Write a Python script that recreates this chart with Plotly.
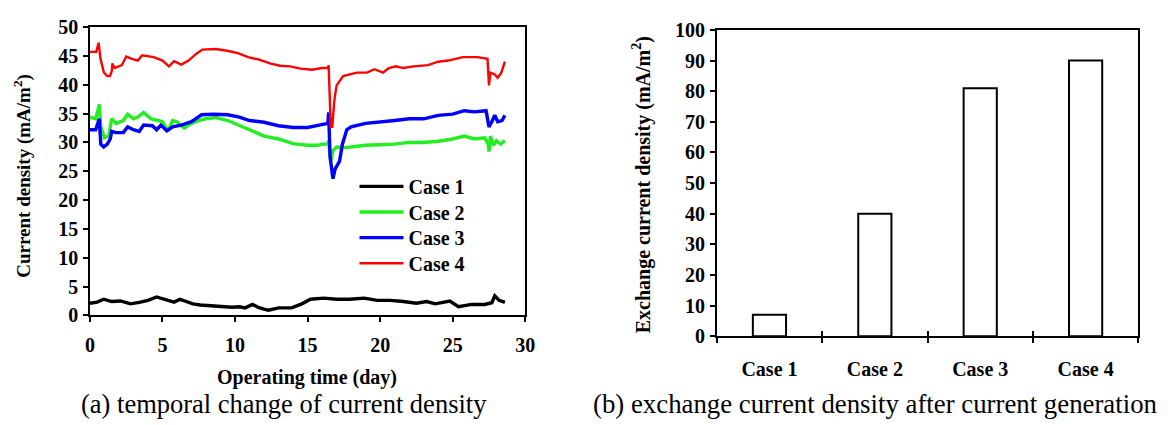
import plotly.graph_objects as go

# ---------------- data: (a) temporal change of current density ----------------
case1_t = [0, 0.5, 0.95, 1.5, 2.1, 2.8, 3.4, 4.0, 4.6, 5.3, 5.8, 6.2, 6.7, 7.1, 7.6, 8.0, 8.9, 9.8,
           10.3, 10.7, 11.2, 11.6, 12.0, 12.3, 13.0, 13.9, 14.6, 15.2, 16.1, 17.0, 17.9, 18.9,
           19.8, 20.7, 21.6, 22.5, 23.2, 23.8, 24.8, 25.4, 26.3, 27.2, 27.7, 27.9, 28.2, 28.6]
case1_v = [2.1, 2.3, 2.8, 2.4, 2.5, 2.0, 2.25, 2.6, 3.2, 2.6, 2.3, 2.8, 2.3, 2.0, 1.8, 1.7, 1.6, 1.4,
           1.5, 1.3, 1.9, 1.4, 1.1, 0.9, 1.3, 1.3, 2.0, 2.8, 3.0, 2.8, 2.8, 3.0,
           2.6, 2.6, 2.4, 2.1, 2.4, 2.0, 2.5, 1.5, 1.9, 1.9, 2.2, 3.4, 2.6, 2.25]

case2_t = [0, 0.4, 0.65, 0.75, 1.0, 1.3, 1.5, 1.8, 2.3, 2.6, 3.0, 3.3, 3.7, 4.2, 4.7, 5.0, 5.4, 5.7,
           6.0, 6.5, 7.0, 7.5, 8.0, 8.7, 9.5, 10.2, 11.0, 12.0, 13.0, 14.0, 15.0, 15.7, 16.0,
           16.4, 16.45, 16.6, 16.75, 17.0, 17.5, 18.0, 19.0, 20.0, 21.0, 22.0, 23.0, 24.0,
           25.0, 25.8, 26.5, 27.2, 27.45, 27.5, 27.6, 27.8, 28.0, 28.3, 28.6]
case2_v = [34.4, 34.1, 36.6, 32.7, 30.8, 31.1, 34.1, 33.3, 33.8, 34.9, 34.1, 34.4, 35.2, 34.1, 33.8,
           33.6, 32.0, 33.8, 33.6, 32.5, 33.3, 33.8, 34.1, 34.3, 33.8, 33.1, 32.2, 31.1, 30.6, 29.8,
           29.5, 29.5, 29.7, 29.7, 30.3, 26.7, 28.6, 29.2, 29.1, 29.2, 29.5, 29.6, 29.7, 30.0, 30.0,
           30.2, 30.6, 31.1, 30.6, 30.8, 29.7, 28.4, 31.1, 29.5, 30.3, 29.7, 30.3]

case3_t = [0, 0.4, 0.65, 0.75, 0.95, 1.2, 1.4, 1.5, 1.8, 2.3, 2.6, 3.0, 3.4, 3.7, 4.3, 4.6, 4.9, 5.3,
           5.7, 6.3, 7.0, 7.7, 8.5, 9.5, 10.3, 11.0, 12.0, 13.0, 14.0, 15.0, 15.8, 16.4, 16.45,
           16.55, 16.75, 16.9, 17.2, 17.4, 17.7, 18.0, 19.0, 20.0, 21.0, 22.0, 23.0, 24.0, 25.0,
           25.8, 26.5, 27.3, 27.5, 27.7, 27.9, 28.1, 28.4, 28.6]
case3_v = [32.2, 32.2, 34.1, 29.7, 29.2, 29.7, 30.6, 31.9, 31.7, 31.7, 32.7, 32.2, 31.9, 33.0, 32.9,
           32.2, 33.0, 32.0, 32.7, 33.0, 33.6, 34.8, 34.9, 34.8, 34.4, 33.8, 33.5, 32.9, 32.6, 32.6,
           33.0, 33.3, 35.2, 27.5, 23.7, 25.4, 26.7, 29.7, 32.2, 32.7, 33.3, 33.5, 33.8, 34.1, 34.1,
           34.7, 34.9, 35.5, 35.3, 35.5, 32.7, 33.6, 34.7, 33.6, 33.8, 34.7]

case4_t = [0, 0.44, 0.6, 0.73, 0.97, 1.2, 1.38, 1.5, 1.55, 1.7, 2.2, 2.5, 2.9, 3.3, 3.6, 4.4, 5.0, 5.45,
           5.8, 6.3, 6.8, 7.3, 7.75, 8.7, 9.45, 10.2, 10.9, 11.6, 12.4, 13.1, 13.8, 14.5, 15.3,
           16.0, 16.4, 16.45, 16.6, 16.7, 16.85, 17.0, 17.45, 17.9, 18.4, 19.1, 19.6, 20.2, 20.6,
           21.1, 21.6, 22.3, 23.3, 24.0, 24.7, 25.2, 25.7, 26.7, 27.4, 27.5, 27.6, 27.9, 28.1,
           28.35, 28.6]
case4_v = [45.7, 45.7, 47.3, 44.5, 42.1, 41.5, 41.5, 42.3, 43.7, 42.9, 43.4, 44.9, 44.5, 44.2, 45.1,
           44.8, 44.2, 43.2, 44.1, 43.5, 44.2, 45.3, 46.1, 46.2, 45.9, 45.5, 44.8, 44.4, 43.7, 43.3,
           43.2, 42.8, 42.6, 42.9, 42.9, 43.4, 32.7, 32.7, 37.4, 39.9, 41.5, 41.8, 42.1, 42.1, 42.7,
           42.1, 42.9, 43.2, 42.9, 43.2, 43.4, 44.0, 44.2, 44.5, 44.8, 44.8, 44.5, 39.9, 42.1, 41.8,
           41.2, 42.1, 44.0]

# ---------------- data: (b) exchange current density ----------------
cases = ["Case 1", "Case 2", "Case 3", "Case 4"]
exchange_cd = [7, 40, 81, 90]

FONT = "Liberation Serif"
W, H = 1171, 425


def px_x(p):
    return p / W


def px_y(p):
    return 1 - p / H


fig = go.Figure()
series = [
    ("Case 1", case1_t, case1_v, "#000000", "legend", 3.4),
    ("Case 2", case2_t, case2_v, "#22EE22", "legend2", 3.4),
    ("Case 3", case3_t, case3_v, "#0000FF", "legend3", 3.4),
    ("Case 4", case4_t, case4_v, "#FF0000", "legend4", 2.4),
]
for name, t, v, c, lg, w in series:
    fig.add_trace(go.Scatter(x=t, y=v, mode="lines", name="<b>" + name + "</b>",
                             line=dict(color=c, width=w), xaxis="x", yaxis="y", legend=lg))

fig.add_trace(go.Bar(x=cases, y=exchange_cd, xaxis="x3", yaxis="y3", showlegend=False,
                     marker=dict(color="white", line=dict(color="black", width=2)),
                     width=0.315))
# invisible companion trace for the overlay (inside-tick) category axis
fig.add_trace(go.Bar(x=cases, y=exchange_cd, xaxis="x4", yaxis="y3", showlegend=False,
                     marker=dict(color="rgba(0,0,0,0)", line=dict(width=0)), width=0.315,
                     hoverinfo="skip"))

tickfont = dict(family=FONT, size=20, color="black", weight="bold")
ax_common = dict(showgrid=False, zeroline=False, showline=True, linecolor="black",
                 linewidth=1.5, ticks="outside", ticklen=5, tickwidth=1.5, tickcolor="black",
                 tickfont=tickfont)
in_common = dict(showgrid=False, zeroline=False, showline=False, ticks="inside", ticklen=5,
                 tickwidth=1.5, tickcolor="black", showticklabels=False)

dom_ax = [px_x(86), px_x(527)]
dom_ay = [px_y(321), px_y(17)]
dom_bx = [px_x(721), px_x(1148)]
dom_by = [px_y(343), px_y(20)]

legend_common = dict(xanchor="left", yanchor="middle", bgcolor="rgba(0,0,0,0)",
                     font=dict(family=FONT, size=20, color="black"), itemwidth=44)
legend_rows = [185, 212, 239, 266]

fig.update_layout(
    width=W, height=H, margin=dict(l=0, r=0, t=0, b=0),
    paper_bgcolor="white", plot_bgcolor="white",
    font=dict(family=FONT, color="black"),
    xaxis=dict(domain=dom_ax, anchor="y", range=[0, 30], dtick=5, mirror=True,
               ticklabelstandoff=6, **ax_common),
    yaxis=dict(domain=dom_ay, anchor="x", range=[0, 50], dtick=5, mirror=True,
               ticklabelstandoff=1, **ax_common),
    xaxis2=dict(overlaying="x", anchor="y", matches="x", range=[0, 30], dtick=5, **in_common),
    yaxis2=dict(overlaying="y", anchor="x", matches="y", range=[0, 50], dtick=5, **in_common),
    xaxis3=dict(domain=dom_bx, anchor="y3", type="category", tickson="boundaries",
                range=[-0.5, 3.5], mirror=True, ticklabelstandoff=14, **ax_common),
    xaxis4=dict(overlaying="x3", anchor="y3", type="category", tickson="boundaries",
                range=[-0.5, 3.5], **in_common),
    yaxis3=dict(domain=dom_by, anchor="x3", range=[0, 100], dtick=10, mirror=True,
                ticklabelstandoff=1, **ax_common),
    yaxis4=dict(overlaying="y3", anchor="x3", range=[0, 100], dtick=10, **in_common),
    legend=dict(x=px_x(354), y=px_y(legend_rows[0]), **legend_common),
    legend2=dict(x=px_x(354), y=px_y(legend_rows[1]), **legend_common),
    legend3=dict(x=px_x(354), y=px_y(legend_rows[2]), **legend_common),
    legend4=dict(x=px_x(354), y=px_y(legend_rows[3]), **legend_common),
    showlegend=True,
)

ann = []
ann.append(dict(text="<b>Current density (mA/m<sup>2</sup>)</b>", x=px_x(18), y=px_y(174),
                textangle=-90, font=dict(size=19)))
ann.append(dict(text="<b>Operating time (day)</b>", x=px_x(306), y=px_y(387),
                font=dict(size=20)))
ann.append(dict(text="<b>Exchange current density (mA/m<sup>2</sup>)</b>", x=px_x(645),
                y=px_y(183), textangle=-90, font=dict(size=20)))
ann.append(dict(text="(a) temporal change of current density", x=px_x(283), y=px_y(414),
                font=dict(size=26.5)))
ann.append(dict(text="(b) exchange current density after current generation", x=px_x(881),
                y=px_y(414), font=dict(size=26.8)))
for a in ann:
    a.update(xref="paper", yref="paper", showarrow=False, xanchor="center", yanchor="middle")
    a["font"].update(family=FONT, color="black")
fig.update_layout(annotations=ann)

fig.write_html("out.html")
